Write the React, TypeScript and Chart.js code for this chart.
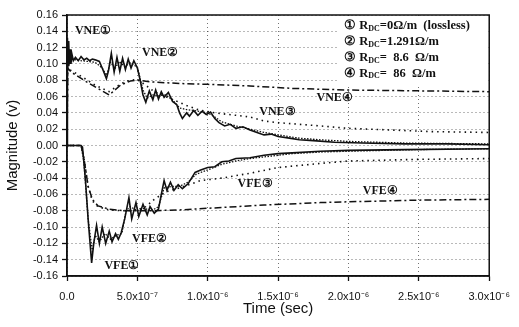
import React, { useEffect, useRef } from 'react';
import { Chart, registerables } from 'chart.js';

Chart.register(...registerables);

// Time axis in microseconds (0 .. 3 µs), magnitude in volts
const xTickLabels = ['0.0', '5.0x10⁻⁷', '1.0x10⁻⁶', '1.5x10⁻⁶', '2.0x10⁻⁶', '2.5x10⁻⁶', '3.0x10⁻⁶'];

// ① lossless — near end (solid)
const vne1: number[][] = [
  [0, 0], [0.003, 0.132], [0.008, 0.098], [0.012, 0.128], [0.017, 0.1], [0.022, 0.118], [0.028, 0.1],
  [0.035, 0.112], [0.045, 0.104], [0.06, 0.108], [0.08, 0.104], [0.1, 0.109], [0.12, 0.105], [0.14, 0.107],
  [0.16, 0.104], [0.18, 0.106], [0.2, 0.105], [0.23, 0.103], [0.25, 0.095], [0.28, 0.082], [0.295, 0.092],
  [0.315, 0.113], [0.335, 0.09], [0.355, 0.108], [0.375, 0.091], [0.395, 0.107], [0.415, 0.093], [0.435, 0.106],
  [0.455, 0.095], [0.475, 0.104], [0.5, 0.095], [0.52, 0.08], [0.54, 0.062], [0.56, 0.053], [0.585, 0.067],
  [0.61, 0.056], [0.63, 0.068], [0.65, 0.057], [0.67, 0.066], [0.69, 0.059], [0.72, 0.065], [0.75, 0.054],
  [0.78, 0.05], [0.8, 0.04], [0.82, 0.033], [0.85, 0.04], [0.87, 0.036], [0.9, 0.043], [0.93, 0.037],
  [0.96, 0.042], [0.99, 0.038], [1.02, 0.041], [1.05, 0.033], [1.08, 0.028], [1.12, 0.024], [1.16, 0.026],
  [1.2, 0.021], [1.25, 0.023], [1.3, 0.019], [1.35, 0.016], [1.4, 0.013], [1.45, 0.014], [1.5, 0.011],
  [1.58, 0.009], [1.65, 0.007], [1.75, 0.006], [1.9, 0.004], [2.1, 0.003], [2.4, 0.002], [2.7, 0.002], [3.0, 0.001],
];
// ② 1.291 Ω/m — near end (dotted)
const vne2: number[][] = [
  [0, 0], [0.005, 0.12], [0.015, 0.1], [0.03, 0.106], [0.1, 0.104], [0.2, 0.102], [0.25, 0.095], [0.28, 0.086],
  [0.31, 0.102], [0.34, 0.094], [0.37, 0.103], [0.41, 0.097], [0.45, 0.101], [0.5, 0.096], [0.54, 0.068],
  [0.57, 0.058], [0.61, 0.062], [0.65, 0.061], [0.7, 0.062], [0.75, 0.056], [0.8, 0.046], [0.85, 0.044],
  [0.9, 0.043], [1.0, 0.04], [1.05, 0.035], [1.1, 0.029], [1.2, 0.024], [1.3, 0.02], [1.4, 0.016], [1.5, 0.013],
  [1.65, 0.009], [1.8, 0.007], [2.0, 0.005], [2.4, 0.003], [3.0, 0.002],
];
// ③ 8.6 Ω/m — near end (sparse dots)
const vne3: number[][] = [
  [0, 0], [0.005, 0.1], [0.02, 0.093], [0.1, 0.085], [0.2, 0.074], [0.3, 0.066], [0.35, 0.072], [0.42, 0.079],
  [0.5, 0.081], [0.55, 0.075], [0.62, 0.066], [0.7, 0.06], [0.77, 0.055], [0.85, 0.049], [0.93, 0.044],
  [1.05, 0.04], [1.2, 0.037], [1.3, 0.035], [1.4, 0.03], [1.5, 0.028], [1.65, 0.026], [1.8, 0.024], [2.0, 0.021],
  [2.3, 0.019], [2.6, 0.017], [3.0, 0.016],
];
// ④ 86 Ω/m — near end (dash-dot)
const vne4: number[][] = [
  [0, 0], [0.005, 0.095], [0.03, 0.09], [0.12, 0.08], [0.22, 0.07], [0.3, 0.062], [0.38, 0.074], [0.45, 0.079],
  [0.5, 0.08], [0.6, 0.078], [0.8, 0.076], [1.0, 0.075], [1.3, 0.073], [1.6, 0.07], [2.0, 0.068], [2.5, 0.067],
  [3.0, 0.066],
];
// ① lossless — far end (solid)
const vfe1: number[][] = [
  [0, 0], [0.1, 0], [0.11, -0.002], [0.13, -0.04], [0.15, -0.09], [0.175, -0.144], [0.19, -0.12], [0.21, -0.098],
  [0.23, -0.12], [0.25, -0.1], [0.275, -0.12], [0.3, -0.105], [0.32, -0.118], [0.345, -0.108], [0.365, -0.115],
  [0.385, -0.107], [0.41, -0.09], [0.44, -0.064], [0.46, -0.09], [0.49, -0.07], [0.51, -0.087], [0.54, -0.072],
  [0.57, -0.085], [0.59, -0.075], [0.62, -0.083], [0.65, -0.078], [0.67, -0.06], [0.69, -0.043], [0.71, -0.055],
  [0.735, -0.045], [0.76, -0.055], [0.79, -0.048], [0.82, -0.053], [0.86, -0.047], [0.91, -0.033], [0.95, -0.03],
  [1.0, -0.027], [1.05, -0.026], [1.1, -0.02], [1.15, -0.019], [1.2, -0.016], [1.3, -0.015], [1.4, -0.012],
  [1.5, -0.01], [1.6, -0.009], [1.8, -0.007], [2.0, -0.006], [2.4, -0.005], [3.0, -0.004],
];
// ② 1.291 Ω/m — far end (dotted)
const vfe2: number[][] = [
  [0, 0], [0.1, 0], [0.12, -0.02], [0.15, -0.09], [0.18, -0.13], [0.2, -0.11], [0.23, -0.118], [0.27, -0.108],
  [0.31, -0.115], [0.35, -0.11], [0.39, -0.108], [0.42, -0.08], [0.45, -0.075], [0.5, -0.08], [0.55, -0.077],
  [0.6, -0.08], [0.65, -0.075], [0.69, -0.052], [0.75, -0.05], [0.8, -0.05], [0.86, -0.045], [0.92, -0.035],
  [1.0, -0.03], [1.1, -0.023], [1.2, -0.019], [1.3, -0.016], [1.45, -0.013], [1.6, -0.01], [1.8, -0.008],
  [2.0, -0.007], [2.5, -0.005], [3.0, -0.004],
];
// ③ 8.6 Ω/m — far end (sparse dots)
const vfe3: number[][] = [
  [0, 0], [0.1, 0], [0.12, -0.015], [0.15, -0.05], [0.18, -0.068], [0.22, -0.075], [0.3, -0.079], [0.4, -0.08],
  [0.5, -0.079], [0.56, -0.075], [0.62, -0.066], [0.7, -0.057], [0.8, -0.052], [0.95, -0.043], [1.1, -0.04],
  [1.3, -0.034], [1.5, -0.027], [1.8, -0.022], [2.0, -0.019], [2.5, -0.017], [3.0, -0.016],
];
// ④ 86 Ω/m — far end (dash-dot)
const vfe4: number[][] = [
  [0, 0], [0.1, 0], [0.12, -0.015], [0.15, -0.05], [0.18, -0.066], [0.22, -0.074], [0.3, -0.078], [0.4, -0.08],
  [0.6, -0.08], [0.8, -0.079], [1.0, -0.077], [1.4, -0.073], [1.8, -0.07], [2.0, -0.069], [2.5, -0.067],
  [3.0, -0.066],
];

// Curve labels anchored in data units (t in µs, v in volts)
const curveLabels = [
  { text: 'VNE①', t: 0.056, v: 0.141 },
  { text: 'VNE②', t: 0.533, v: 0.113 },
  { text: 'VNE③', t: 1.366, v: 0.041 },
  { text: 'VNE④', t: 1.773, v: 0.058 },
  { text: 'VFE①', t: 0.266, v: -0.148 },
  { text: 'VFE②', t: 0.462, v: -0.115 },
  { text: 'VFE③', t: 1.212, v: -0.047 },
  { text: 'VFE④', t: 2.102, v: -0.056 },
];

const legendRows = [
  { num: '①', value: '=0Ω/m  (lossless)' },
  { num: '②', value: '=1.291Ω/m' },
  { num: '③', value: '=  8.6  Ω/m' },
  { num: '④', value: '=  86  Ω/m' },
];

const INK = '#111';
const SERIF = "'Liberation Serif', 'Times New Roman', serif";

const overlayPlugin = {
  id: 'overlay',
  afterDatasetsDraw(chart: any) {
    const { ctx, chartArea, scales } = chart;
    const xs = scales.x;
    const ys = scales.y;
    ctx.save();
    // legend box
    const lw = 150;
    const lx = chartArea.right - lw - 1;
    const ly = chartArea.top + 2;
    ctx.fillStyle = '#fff';
    ctx.fillRect(lx, ly, lw, 68);
    ctx.fillStyle = INK;
    ctx.textBaseline = 'middle';
    ctx.textAlign = 'left';
    legendRows.forEach((r, i) => {
      const y = chartArea.top + 11 + i * 15.8;
      let x = lx + 6;
      ctx.font = `bold 12.5px ${SERIF}`;
      ctx.fillText(r.num, x, y);
      x += ctx.measureText(r.num).width + 3;
      ctx.fillText('R', x, y);
      x += ctx.measureText('R').width;
      ctx.font = `bold 8px ${SERIF}`;
      ctx.fillText('DC', x, y + 3);
      x += ctx.measureText('DC').width;
      ctx.font = `bold 12.5px ${SERIF}`;
      ctx.fillText(r.value, x, y);
    });
    // curve labels
    ctx.font = `bold 12px ${SERIF}`;
    curveLabels.forEach((l) => {
      ctx.fillText(l.text, xs.getPixelForValue(l.t), ys.getPixelForValue(l.v));
    });
    // frame
    ctx.strokeStyle = INK;
    ctx.lineWidth = 1.5;
    ctx.strokeRect(chartArea.left, chartArea.top, chartArea.right - chartArea.left, chartArea.bottom - chartArea.top);
    ctx.restore();
  },
};

export default function App() {
  const ref = useRef<HTMLCanvasElement>(null);
  useEffect(() => {
    document.body.style.margin = '0';
    Chart.defaults.font.family = "'Liberation Sans', Arial, sans-serif";
    const mk = (data: number[][], dash: number[], width: number) => ({
      data,
      borderColor: INK,
      borderWidth: width,
      borderDash: dash,
      pointRadius: 0,
      tension: 0,
      fill: false,
    });
    const chart = new Chart(ref.current!, {
      type: 'line',
      data: {
        datasets: [
          mk(vne4, [7, 3, 2, 3], 1.5),
          mk(vfe4, [7, 3, 2, 3], 1.5),
          mk(vne3, [1.5, 4], 1.6),
          mk(vfe3, [1.5, 4], 1.6),
          mk(vne2, [1.5, 1.5], 1.3),
          mk(vfe2, [1.5, 1.5], 1.3),
          mk(vne1, [], 1.6),
          mk(vfe1, [], 1.6),
        ] as any,
      },
      options: {
        responsive: false,
        animation: false,
        layout: { padding: { top: 15, right: 24, left: 0, bottom: 0 } },
        plugins: { legend: { display: false }, tooltip: { enabled: false } },
        scales: {
          x: {
            type: 'linear',
            min: 0,
            max: 3,
            afterFit: (s: any) => { s.height = 51; },
            ticks: {
              stepSize: 0.5,
              color: INK,
              font: { size: 11 },
              padding: 9,
              maxRotation: 0,
              callback: (_v: any, i: number) => xTickLabels[i],
            },
            grid: { color: 'rgba(0,0,0,0.55)', lineWidth: 1, tickLength: 5, tickColor: INK, tickWidth: 1.3 },
            border: { color: INK, width: 1.5, dash: [1, 3] },
            title: { display: true, text: 'Time (sec)', color: INK, font: { size: 15 }, padding: { top: 0, bottom: 9 } },
          },
          y: {
            min: -0.16,
            max: 0.16,
            afterFit: (s: any) => { s.width = 67; },
            ticks: {
              stepSize: 0.02,
              color: INK,
              font: { size: 11 },
              padding: 4,
              callback: (v: any) => (Math.abs(v) < 1e-9 ? '0.00' : Number(v).toFixed(2)),
            },
            grid: { color: 'rgba(0,0,0,0.55)', lineWidth: 1, tickLength: 5, tickColor: INK, tickWidth: 1.3 },
            border: { color: INK, width: 1.5, dash: [1, 3] },
            title: { display: true, text: 'Magnitude (v)', color: INK, font: { size: 15 }, padding: { top: 4, bottom: 0 } },
          },
        },
      },
      plugins: [overlayPlugin],
    } as any);
    return () => chart.destroy();
  }, []);
  return <canvas ref={ref} width={519} height={327} style={{ display: 'block', width: 519, height: 327 }} />;
}
